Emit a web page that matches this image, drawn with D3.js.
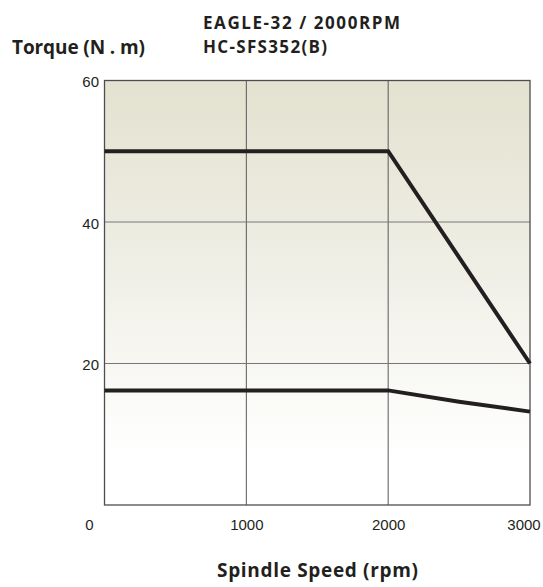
<!DOCTYPE html>
<html>
<head>
<meta charset="utf-8">
<script src="https://cdn.jsdelivr.net/npm/d3@7"></script>
<style>
  body { margin: 0; background: #fff; }
  svg text { font-family: "Liberation Sans", Arial, sans-serif; }
  .title { font-family: "Open Sans", sans-serif !important; font-weight: 700; fill: #231f20; }
</style>
</head>
<body>
<div class="chart"></div>
<script>
let xTicks = [0, 1000, 2000, 3000]
let yTicks = [20, 40, 60]
// upper curve (peak torque) and lower curve (rated torque)
let upperSpeed = [0, 2000, 3000]
let upperTorque = [50, 50, 20]
let lowerSpeed = [0, 2000, 2500, 3000]
let lowerTorque = [16.2, 16.2, 14.6, 13.2]

let width = 543
let height = 587
let margin = {left: 104.5, right: 13, top: 80.5, bottom: 82}

let svg = d3.select(".chart")
  .append("svg")
  .attr("width", width)
  .attr("height", height)

let x = d3.scaleLinear().domain([0, 3000]).range([margin.left, width - margin.right])
let y = d3.scaleLinear().domain([0, 60]).range([height - margin.bottom, margin.top])

let defs = svg.append("defs")
let grad = defs.append("linearGradient")
  .attr("id", "bg")
  .attr("x1", 0).attr("y1", 0).attr("x2", 0).attr("y2", 1)
grad.append("stop").attr("offset", "0%").attr("stop-color", "#e3e1cf")
grad.append("stop").attr("offset", "45%").attr("stop-color", "#f0efe6")
grad.append("stop").attr("offset", "88%").attr("stop-color", "#ffffff")

svg.append("rect")
  .attr("x", x(0))
  .attr("y", y(60))
  .attr("width", x(3000) - x(0))
  .attr("height", y(0) - y(60))
  .attr("fill", "url(#bg)")

// grid
svg.selectAll(".vgrid")
  .data(xTicks.slice(1, 3))
  .enter()
  .append("line")
  .attr("x1", d => x(d)).attr("x2", d => x(d))
  .attr("y1", y(0)).attr("y2", y(60))
  .attr("stroke", "#58585a")
  .attr("stroke-width", 1)

svg.selectAll(".hgrid")
  .data(yTicks.slice(0, 2))
  .enter()
  .append("line")
  .attr("x1", x(0)).attr("x2", x(3000))
  .attr("y1", d => y(d)).attr("y2", d => y(d))
  .attr("stroke", "#77777a")
  .attr("stroke-width", 1)

svg.append("rect")
  .attr("x", x(0))
  .attr("y", y(60))
  .attr("width", x(3000) - x(0))
  .attr("height", y(0) - y(60))
  .attr("fill", "none")
  .attr("stroke", "#4d4d4f")
  .attr("stroke-width", 1.3)

// axes labels
let xAxis = d3.axisBottom(x).tickValues(xTicks).tickFormat(d3.format("d")).tickSize(0).tickPadding(14)
let gx = svg.append("g")
  .attr("transform", `translate(0,${y(0)})`)
  .call(xAxis)
gx.select(".domain").remove()
gx.selectAll("text")
  .attr("font-size", 15)
  .attr("fill", "#231f20")
  .attr("dx", d => d === 0 ? -15.5 : d === 3000 ? -6.5 : 0)

let yAxis = d3.axisLeft(y).tickValues(yTicks).tickSize(0).tickPadding(5.5)
let gy = svg.append("g")
  .attr("transform", `translate(${x(0)},0)`)
  .call(yAxis)
gy.select(".domain").remove()
gy.selectAll("text")
  .attr("font-size", 15)
  .attr("fill", "#231f20")
  .attr("dy", "0.4em")

// curves
let line = d3.line().x(d => x(d[0])).y(d => y(d[1]))

svg.append("path")
  .datum(upperSpeed.map((s, i) => [s, upperTorque[i]]))
  .attr("d", line)
  .attr("fill", "none")
  .attr("stroke", "#231f20")
  .attr("stroke-width", 4)

svg.append("path")
  .datum(lowerSpeed.map((s, i) => [s, lowerTorque[i]]))
  .attr("d", line)
  .attr("fill", "none")
  .attr("stroke", "#231f20")
  .attr("stroke-width", 4)

// titles
let titles = [
  {text: "EAGLE-32 / 2000RPM", x: 203, y: 29, len: 197, size: 17},
  {text: "HC-SFS352(B)", x: 203, y: 52.5, len: 124, size: 17},
  {text: "Torque (N . m)", x: 12, y: 54, len: 133, size: 19},
  {text: "Spindle Speed (rpm)", x: 217, y: 577, len: 201, size: 19}
]
svg.selectAll(".title")
  .data(titles)
  .enter()
  .append("text")
  .attr("class", "title")
  .attr("x", d => d.x)
  .attr("y", d => d.y)
  .attr("font-size", d => d.size)
  .attr("textLength", d => d.len)
  .attr("lengthAdjust", "spacing")
  .text(d => d.text)
</script>
</body>
</html>
